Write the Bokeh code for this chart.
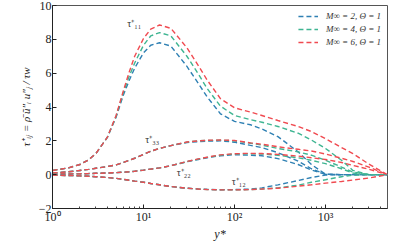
import numpy as np
from bokeh.plotting import figure
from bokeh.models import FixedTicker, Legend, LegendItem, ColumnDataSource, Range1d
from bokeh.core.properties import value
from bokeh.embed import file_html
from bokeh.resources import INLINE

# ---- data ----
y_star = [1, 1.5, 2, 2.5, 3, 4, 5, 6, 7, 8, 10, 12, 15, 20, 30, 40, 50, 70, 100, 150, 200, 300, 500, 700, 1000, 1500, 2000, 3000, 4800]

tau11_M2 = [0.25, 0.4, 0.6, 0.88, 1.25, 2.2, 3.4, 4.7, 5.6, 6.3, 7.2, 7.65, 7.8, 7.6, 6.4, 5.4, 4.6, 3.6, 3.15, 2.95, 2.7, 2.25, 1.35, 0.6, 0.03, 0.0, 0.0, 0.0, 0.0]
tau11_M4 = [0.25, 0.4, 0.6, 0.88, 1.25, 2.2, 3.45, 4.85, 5.85, 6.6, 7.65, 8.2, 8.4, 8.2, 7.0, 5.95, 5.1, 4.05, 3.5, 3.25, 3.1, 2.85, 2.45, 2.05, 1.55, 0.85, 0.25, 0.0, 0.0]
tau11_M6 = [0.25, 0.4, 0.6, 0.88, 1.25, 2.2, 3.5, 4.95, 6.1, 7.0, 8.05, 8.6, 8.85, 8.65, 7.5, 6.45, 5.6, 4.5, 3.95, 3.7, 3.5, 3.2, 2.85, 2.55, 2.13, 1.6, 1.25, 0.62, 0.0]

tau33_M2 = [0.1, 0.17, 0.25, 0.31, 0.38, 0.48, 0.58, 0.72, 0.85, 0.97, 1.2, 1.38, 1.55, 1.72, 1.9, 1.95, 1.98, 2.0, 1.92, 1.73, 1.6, 1.3, 0.8, 0.35, 0.02, 0.0, 0.0, 0.0, 0.0]
tau33_M4 = [0.1, 0.17, 0.25, 0.31, 0.38, 0.48, 0.58, 0.72, 0.85, 0.97, 1.2, 1.38, 1.55, 1.72, 1.92, 2.0, 2.02, 2.04, 2.0, 1.86, 1.75, 1.55, 1.35, 1.15, 0.85, 0.45, 0.15, 0.0, 0.0]
tau33_M6 = [0.1, 0.17, 0.25, 0.31, 0.38, 0.48, 0.58, 0.72, 0.85, 0.97, 1.2, 1.38, 1.55, 1.72, 1.93, 2.0, 2.03, 2.05, 2.02, 1.88, 1.8, 1.65, 1.5, 1.4, 1.22, 0.97, 0.78, 0.45, 0.0]

tau22_M2 = [0.03, 0.04, 0.05, 0.065, 0.08, 0.1, 0.12, 0.145, 0.17, 0.2, 0.27, 0.33, 0.4, 0.53, 0.76, 0.9, 1.0, 1.12, 1.18, 1.15, 1.12, 0.95, 0.6, 0.28, 0.02, 0.0, 0.0, 0.0, 0.0]
tau22_M4 = [0.03, 0.04, 0.05, 0.065, 0.08, 0.1, 0.12, 0.145, 0.17, 0.2, 0.27, 0.33, 0.4, 0.53, 0.77, 0.92, 1.02, 1.15, 1.22, 1.24, 1.22, 1.15, 1.0, 0.85, 0.65, 0.35, 0.1, 0.0, 0.0]
tau22_M6 = [0.03, 0.04, 0.05, 0.065, 0.08, 0.1, 0.12, 0.145, 0.17, 0.2, 0.27, 0.33, 0.4, 0.53, 0.78, 0.93, 1.03, 1.17, 1.24, 1.26, 1.25, 1.2, 1.1, 1.0, 0.9, 0.72, 0.55, 0.32, 0.0]

tau12_M2 = [-0.03, -0.05, -0.07, -0.095, -0.12, -0.17, -0.22, -0.28, -0.33, -0.38, -0.45, -0.52, -0.6, -0.7, -0.8, -0.85, -0.87, -0.89, -0.88, -0.85, -0.78, -0.6, -0.35, -0.17, -0.02, 0.0, 0.0, 0.0, 0.0]
tau12_M4 = [-0.03, -0.05, -0.07, -0.095, -0.12, -0.17, -0.22, -0.28, -0.33, -0.38, -0.45, -0.52, -0.6, -0.7, -0.8, -0.85, -0.88, -0.9, -0.9, -0.88, -0.85, -0.78, -0.62, -0.45, -0.3, -0.12, -0.03, 0.0, 0.0]
tau12_M6 = [-0.03, -0.05, -0.07, -0.095, -0.12, -0.17, -0.22, -0.28, -0.33, -0.38, -0.45, -0.52, -0.6, -0.7, -0.8, -0.85, -0.88, -0.9, -0.9, -0.88, -0.85, -0.8, -0.68, -0.6, -0.5, -0.4, -0.32, -0.2, 0.0]

series_labels = ["M∞ = 2, Θ = 1", "M∞ = 4, Θ = 1", "M∞ = 6, Θ = 1"]
xtick_vals = [1, 10, 100, 1000]
xtick_labels = ["10⁰", "10¹", "10²", "10³"]
ytick_vals = [-2, 0, 2, 4, 6, 8, 10]

curve_names = ["τ⁺₁₁", "τ⁺₃₃", "τ⁺₂₂", "τ⁺₁₂"]
curve_name_x = [7.9, 12.5, 27.7, 111]
curve_name_y = [8.95, 2.1, 0.1, -0.4]

# ---- styles ----
colors = ["#2f80b3", "#3fb592", "#f04a50"]
FONT = "Liberation Serif"

p = figure(width=391, height=243, x_axis_type="log", output_backend="svg",
           toolbar_location=None, x_range=Range1d(1, 4800), y_range=Range1d(-2, 10),
           min_border_left=52, min_border_right=4, min_border_top=5, min_border_bottom=28)
p.grid.visible = False
p.outline_line_color = "#555555"
p.background_fill_color = "white"

groups = [
    (tau11_M2, tau11_M4, tau11_M6),
    (tau33_M2, tau33_M4, tau33_M6),
    (tau22_M2, tau22_M4, tau22_M6),
    (tau12_M2, tau12_M4, tau12_M6),
]
renderers = [[], [], []]
for g in groups:
    for k, ys in enumerate(g):
        r = p.line(y_star, ys, line_color=colors[k], line_width=1.4, line_dash="5 3")
        renderers[k].append(r)

src = ColumnDataSource(dict(x=curve_name_x, y=curve_name_y, t=curve_names))
p.text(x="x", y="y", text="t", source=src, text_font=value(FONT), text_font_size="10px",
       text_align="center", text_baseline="middle", text_color="#333333")

legend = Legend(items=[LegendItem(label=series_labels[k], renderers=[renderers[k][0]]) for k in range(3)],
                location="top_right")
legend.border_line_color = None
legend.background_fill_alpha = 0
legend.label_text_font = FONT
legend.label_text_font_style = "italic"
legend.label_text_font_size = "9px"
legend.label_text_color = "#333333"
legend.glyph_width = 20
legend.glyph_height = 10
legend.label_height = 10
legend.spacing = 3
legend.padding = 2
legend.margin = 6
legend.label_standoff = 8
p.add_layout(legend)

p.xaxis.ticker = FixedTicker(ticks=xtick_vals,
                             minor_ticks=[m * d for d in [1, 10, 100, 1000] for m in range(2, 10)])
p.xaxis.major_label_overrides = {v: l for v, l in zip(xtick_vals, xtick_labels)}
p.yaxis.ticker = FixedTicker(ticks=ytick_vals)
p.yaxis.major_label_overrides = {v: str(v).replace("-", "−") for v in ytick_vals}

for ax in (p.xaxis, p.yaxis):
    ax.major_label_text_font = FONT
    ax.major_label_text_font_size = "12px"
    ax.major_label_text_color = "#222222"
    ax.axis_label_text_font = FONT
    ax.axis_label_text_font_size = "12px"
    ax.axis_label_text_font_style = "italic"
    ax.axis_label_text_color = "#222222"
    ax.axis_line_color = "#222222"
    ax.major_tick_line_color = "#222222"
    ax.minor_tick_line_color = "#444444"
    ax.major_tick_out = 0
    ax.major_tick_in = 4
    ax.minor_tick_out = 0
    ax.minor_tick_in = 2
    ax.major_label_standoff = 1
    ax.axis_label_standoff = 0

p.yaxis.minor_tick_line_color = None
p.yaxis.axis_label_text_font_size = "11px"
p.yaxis.axis_label_standoff = 4
p.xaxis.axis_label = "y*"
p.yaxis.axis_label = "τ⁺ᵢⱼ = ρ̄ ũ″ᵢ u″ⱼ / τw"

open("out.html", "w").write(file_html(p, INLINE))
